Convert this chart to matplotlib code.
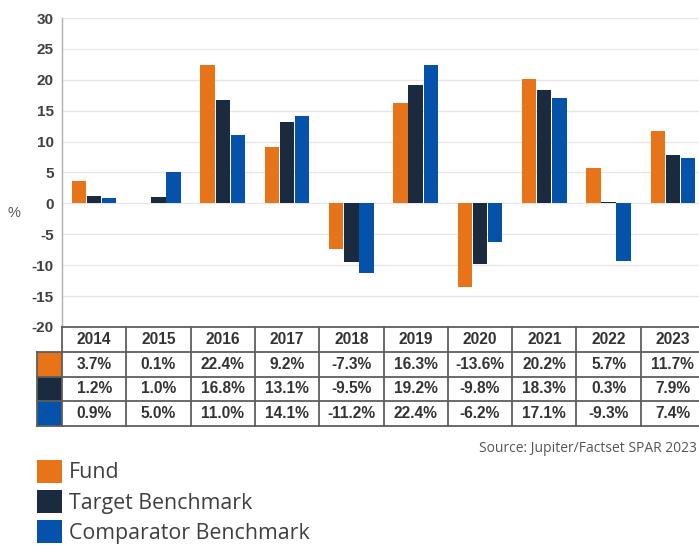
import matplotlib
matplotlib.use("Agg")
import matplotlib.pyplot as plt
from matplotlib.lines import Line2D
from matplotlib.patches import Rectangle
import numpy as np

years = ["2014", "2015", "2016", "2017", "2018", "2019", "2020", "2021", "2022", "2023"]
fund = [3.7, 0.1, 22.4, 9.2, -7.3, 16.3, -13.6, 20.2, 5.7, 11.7]
target = [1.2, 1.0, 16.8, 13.1, -9.5, 19.2, -9.8, 18.3, 0.3, 7.9]
comparator = [0.9, 5.0, 11.0, 14.1, -11.2, 22.4, -6.2, 17.1, -9.3, 7.4]
series_names = ["Fund", "Target Benchmark", "Comparator Benchmark"]
colors = ["#E8741A", "#1A2A3F", "#0452AA"]
yticks = [-20, -15, -10, -5, 0, 5, 10, 15, 20, 25, 30]
source = "Source: Jupiter/Factset SPAR 2023"

W, H = 699, 545
fig = plt.figure(figsize=(W / 100, H / 100), dpi=100)
fig.patch.set_facecolor("white")

def fy(px):
    return 1 - px / H

def fx(px):
    return px / W

ax_left, ax_right, ax_top, ax_bot = 62, 705, 18, 327
ax = fig.add_axes([fx(ax_left), fy(ax_bot), (ax_right - ax_left) / W, (ax_bot - ax_top) / H])

n = len(years)
x = np.arange(n) + 0.5
bw = 0.225
off = 0.235
for k, vals in enumerate([fund, target, comparator]):
    ax.bar(x + (k - 1) * off, vals, width=bw, color=colors[k], zorder=3)

ax.set_xlim(0, n)
ax.set_ylim(-20, 30)
ax.set_yticks(yticks)
ax.set_yticklabels([str(t) for t in yticks], fontfamily="Liberation Sans",
                   fontweight="bold", fontsize=11, color="#404040")
ax.tick_params(axis="y", length=0, pad=6)
ax.tick_params(axis="x", length=0, labelbottom=False)
ax.grid(axis="y", color="#E6E6E6", linewidth=1, zorder=0)
for s in ["top", "right", "bottom"]:
    ax.spines[s].set_visible(False)
ax.spines["left"].set_color("#B0B0B0")
ax.spines["left"].set_linewidth(1)

fig.text(fx(14), fy(213), "%", fontfamily="Liberation Sans", fontsize=10.5,
         color="#555555", ha="center", va="center")

# table
col_px = [ax_left + i * (ax_right - ax_left) / n for i in range(n + 1)]
row_px = [327, 352, 376.5, 401, 425.5]
lc = "#5E5E5E"
lw = 1.3

def hline(y, x0, x1):
    fig.add_artist(Line2D([fx(x0), fx(x1)], [fy(y), fy(y)], color=lc, lw=lw))

def vline(xp, y0, y1):
    fig.add_artist(Line2D([fx(xp), fx(xp)], [fy(y0), fy(y1)], color=lc, lw=lw))

hline(row_px[0], ax_left, ax_right)
for r in range(1, 5):
    hline(row_px[r], 37, ax_right)
for c in col_px:
    vline(c, row_px[0], row_px[4])
vline(37, row_px[1], row_px[4])

for r in range(3):
    fig.add_artist(Rectangle((fx(37), fy(row_px[r + 2])), fx(62) - fx(37),
                             fy(row_px[r + 1]) - fy(row_px[r + 2]),
                             facecolor=colors[r], edgecolor="none"))

tfont = dict(fontfamily="Liberation Sans", fontweight="bold", fontsize=11.2,
             color="#333333", ha="center", va="center")
for i in range(n):
    cx = (col_px[i] + col_px[i + 1]) / 2
    fig.text(fx(cx), fy((row_px[0] + row_px[1]) / 2), years[i], **tfont)
    for r, vals in enumerate([fund, target, comparator]):
        fig.text(fx(cx), fy((row_px[r + 1] + row_px[r + 2]) / 2), f"{vals[i]:.1f}%", **tfont)

fig.text(fx(697), fy(448), source, fontfamily="Open Sans", fontsize=10,
         color="#555555", ha="right", va="center")

# legend
for r, name in enumerate(series_names):
    top = 460 + r * 30
    fig.add_artist(Rectangle((fx(37), fy(top + 23)), fx(62) - fx(37), fy(top) - fy(top + 23),
                             facecolor=colors[r], edgecolor="none"))
    fig.text(fx(69), fy(top + 13), name, fontfamily="Open Sans", fontsize=15.4,
             color="#404040", ha="left", va="center")

fig.savefig("out.png", dpi=100)
